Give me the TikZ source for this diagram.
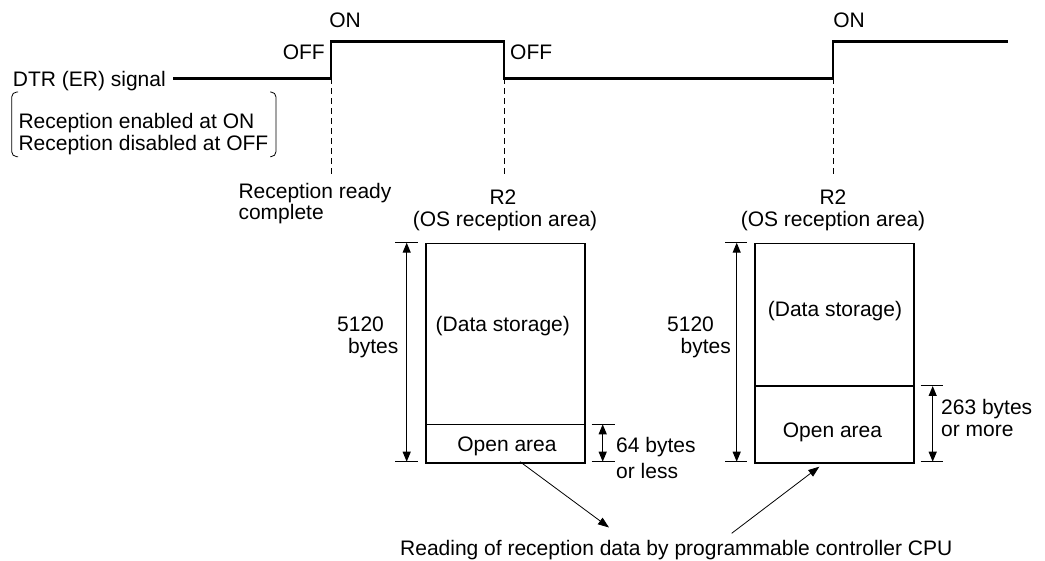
\documentclass[tikz,border=0pt]{standalone}
\usepackage{fontspec}
\setmainfont{Liberation Sans}
\usetikzlibrary{arrows.meta}
\begin{document}
\begin{tikzpicture}[x=1pt,y=-1pt,
  lbl/.style={inner sep=0pt, font=\fontsize{21}{22}\selectfont, anchor=base},
  sig/.style={line width=2.2pt, line join=miter},
  dsh/.style={line width=0.9pt, dash pattern=on 6pt off 4pt},
  memb/.style={draw, line width=1.8pt, inner sep=0pt, anchor=north west},
  divl/.style={line width=1.2pt},
  dim/.style={line width=1.2pt, {Triangle[length=10pt,width=8pt]}-{Triangle[length=10pt,width=8pt]}},
  ext/.style={line width=1pt},
  ptr/.style={line width=0.8pt, -{Triangle[length=11pt,width=8pt]}},
  brk/.style={line width=0.8pt, rounded corners=5pt}]
\useasboundingbox (0,0) rectangle (1045,561);

% signal
\coordinate (s0) at (173,78.5);
\coordinate (r1) at (331,78.5);
\coordinate (r1h) at (331,41.5);
\coordinate (f1h) at (504.3,41.5);
\coordinate (f1) at (504.3,78.5);
\coordinate (r2) at (833,78.5);
\coordinate (r2h) at (833,41.5);
\coordinate (s1) at (1008,41.5);
\draw[sig] (s0) -- (r1) -- (r1h) -- (f1h) -- (f1) -- (r2) -- (r2h) -- (s1);

\coordinate (d1) at (331,176);
\coordinate (d2) at (504.3,176.5);
\coordinate (d3) at (833,176.5);
\draw[dsh] (r1) -- (d1);
\draw[dsh] (f1) -- (d2);
\draw[dsh] (r2) -- (d3);

% signal labels
\node[lbl, anchor=base east] (off1) at (325,59.5) {OFF};
\node[lbl] (on1) at (345,28) {ON};
\node[lbl, anchor=base west] (off2) at (510,59.5) {OFF};
\node[lbl] (on2) at (849,28) {ON};
\node[lbl, anchor=base west] (dtr) at (12.7,86.7) {DTR (ER) signal};
\node[lbl, anchor=base west] (en) at (18.3,128.3) {Reception enabled at ON};
\node[lbl, anchor=base west] (dis) at (18.3,150.7) {Reception disabled at OFF};
\draw[brk] (18,92) -- (11.7,92) -- (11.7,156.7) -- (18,156.7);
\draw[brk] (270,92) -- (276,92) -- (276,156.7) -- (270,156.7);
\node[lbl, anchor=base west] (rr) at (238.3,198.3) {Reception ready};
\node[lbl, anchor=base west] (cp) at (238.3,220) {complete};
\node[lbl] (r2a) at (503,204.5) {R2};
\node[lbl] (osa) at (505,227) {(OS reception area)};
\node[lbl] (r2b) at (833,204.5) {R2};
\node[lbl] (osb) at (833,227) {(OS reception area)};

% box 1
\node[memb, minimum width=159pt, minimum height=219pt] (b1) at (425,242.7) {};
\coordinate (v1) at (0,424.3);
\draw[divl] (b1.west |- v1) -- (b1.east |- v1);
\node[lbl] (ds1) at (502.8,331.7) {(Data storage)};
\node[lbl] (oa1) at (507,451.7) {Open area};
\coordinate (e1a) at (395,242.7);
\coordinate (e1b) at (417.7,242.7);
\coordinate (e1c) at (395,461.7);
\coordinate (e1d) at (417.7,461.7);
\draw[ext] (e1a) -- (e1b);
\draw[ext] (e1c) -- (e1d);
\coordinate (m1t) at (406.7,242.7);
\coordinate (m1b) at (406.7,461.7);
\draw[dim] (m1t) -- (m1b);
\node[lbl, anchor=base west] (n1a) at (337,331.5) {5120};
\node[lbl, anchor=base west] (n1b) at (348,353.3) {bytes};
\coordinate (e1e) at (591.7,424.3);
\coordinate (e1f) at (615,424.3);
\coordinate (e1g) at (591.7,461.7);
\coordinate (e1h) at (615,461.7);
\draw[ext] (e1e) -- (e1f);
\draw[ext] (e1g) -- (e1h);
\coordinate (k1t) at (602.7,424.3);
\coordinate (k1b) at (602.7,461.7);
\draw[dim] (k1t) -- (k1b);
\node[lbl, anchor=base west] (sz1a) at (616,453) {64 bytes};
\node[lbl, anchor=base west] (sz1b) at (616,478.5) {or less};

% box 2
\node[memb, minimum width=158.7pt, minimum height=219pt] (b2) at (754,242.7) {};
\coordinate (v2) at (0,386);
\draw[divl] (b2.west |- v2) -- (b2.east |- v2);
\node[lbl] (ds2) at (835,317) {(Data storage)};
\node[lbl] (oa2) at (832.5,437.5) {Open area};
\coordinate (e2a) at (725,242.7);
\coordinate (e2b) at (746.7,242.7);
\coordinate (e2c) at (725,461.7);
\coordinate (e2d) at (746.7,461.7);
\draw[ext] (e2a) -- (e2b);
\draw[ext] (e2c) -- (e2d);
\coordinate (m2t) at (736.7,242.7);
\coordinate (m2b) at (736.7,461.7);
\draw[dim] (m2t) -- (m2b);
\node[lbl, anchor=base west] (n2a) at (667,331.5) {5120};
\node[lbl, anchor=base west] (n2b) at (680.5,353.3) {bytes};
\coordinate (e2e) at (920.7,386);
\coordinate (e2f) at (943.3,386);
\coordinate (e2g) at (920.7,461.7);
\coordinate (e2h) at (943.3,461.7);
\draw[ext] (e2e) -- (e2f);
\draw[ext] (e2g) -- (e2h);
\coordinate (k2t) at (932.7,386);
\coordinate (k2b) at (932.7,461.7);
\draw[dim] (k2t) -- (k2b);
\node[lbl, anchor=base west] (sz2a) at (941,415) {263 bytes};
\node[lbl, anchor=base west] (sz2b) at (941,437) {or more};

% reading
\node[lbl, anchor=base west] (rd) at (400,555) {Reading of reception data by programmable controller CPU};
\coordinate (p1s) at (520,461.7);
\coordinate (p1e) at (609,527.5);
\draw[ptr] (p1s) -- (p1e);
\coordinate (p2s) at (731.7,533.3);
\coordinate (p2e) at (819.3,466.7);
\draw[ptr] (p2s) -- (p2e);
\end{tikzpicture}
\end{document}
